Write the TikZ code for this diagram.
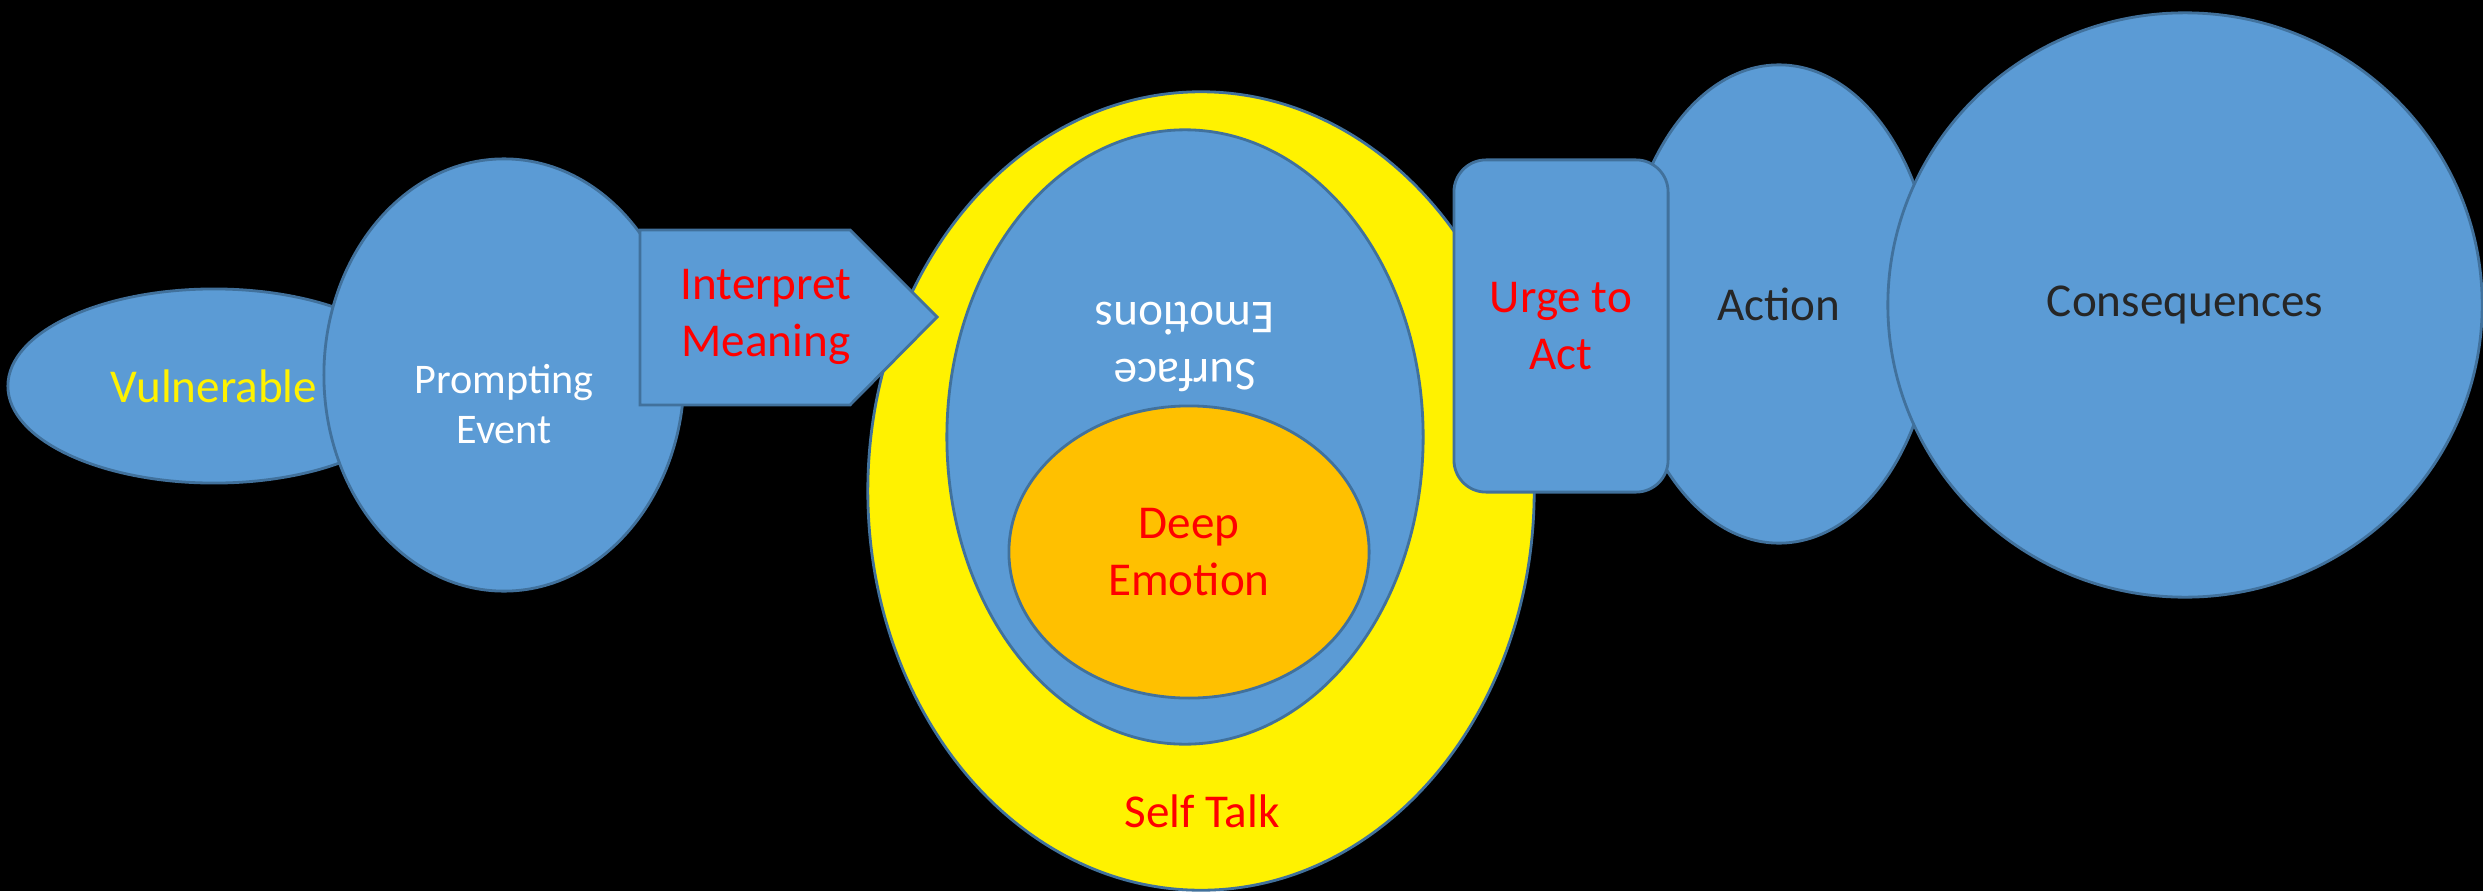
\documentclass[tikz,border=0pt]{standalone}
\usepackage{fontspec}
\setmainfont{Carlito}
\usetikzlibrary{positioning,shapes.geometric}

\definecolor{shapeblue}{HTML}{5B9BD5}
\definecolor{edgeblue}{HTML}{41719C}
\definecolor{deeporange}{HTML}{FFC000}
\definecolor{labelred}{HTML}{FF0000}
\definecolor{darktext}{HTML}{262626}

\tikzset{
  blobfill/.style={draw=edgeblue, fill=shapeblue, line width=0.8pt},
  blob/.style={blobfill, ellipse, inner sep=0pt, align=center},
  mainfont/.style={font=\fontsize{13.4}{16}\selectfont},
  redtext/.style={mainfont, text=labelred, align=center},
  whitetext/.style={mainfont, text=white, align=center},
  darklabel/.style={mainfont, text=darktext, align=center}
}

\begin{document}
\begin{tikzpicture}[x=0.01cm,y=-0.01cm]
% Background
\fill[black] (0,0) rectangle (2483,891);
\useasboundingbox (0,0) rectangle (2483,891);

% Left side
\node[blob, minimum width=4.12cm, minimum height=1.94cm, mainfont, text=yellow] (vuln) at (214,386) {Vulnerable};
\node[blob, minimum width=3.6cm, minimum height=4.32cm] (prompt) at (504,375) {};
\node[text=white, align=center, font=\fontsize{12}{14}\selectfont] (prompttext) at (504,404) {Prompting\\Event};

% Nested emotions
\node[ellipse, draw=edgeblue, fill=yellow, line width=0.8pt, minimum width=6.66cm, minimum height=7.98cm] (selftalk) at (1201,491) {};
\node[blob, minimum width=4.76cm, minimum height=6.14cm] (surface) at (1185,437) {};
\node[whitetext, rotate=180] (surfacetext) at (1185,347) {Surface\\Emotions};
\node[ellipse, draw=edgeblue, fill=deeporange, line width=0.8pt, minimum width=3.6cm, minimum height=2.92cm, redtext] (deep) at (1189,552) {Deep\\Emotion};
\node[redtext] (selftalktext) at (1202,811) {Self Talk};

% Interpret arrow
\draw[blobfill] (640,230) -- (850,230) -- (937,317) -- (850,405) -- (640,405) -- cycle;
\node[redtext] (interp) at (766,317) {Interpret\\Meaning};

% Right side
\node[blob, minimum width=3.12cm, minimum height=4.78cm, darklabel] (action) at (1779,304) {Action};
\node[blobfill, rectangle, rounded corners=0.32cm, minimum width=2.14cm, minimum height=3.32cm, redtext] (urge) at (1561,326) {Urge to\\Act};
\node[blob, minimum width=5.94cm, minimum height=5.84cm, darklabel] (conseq) at (2185,305) {Consequences};
\end{tikzpicture}
\end{document}
